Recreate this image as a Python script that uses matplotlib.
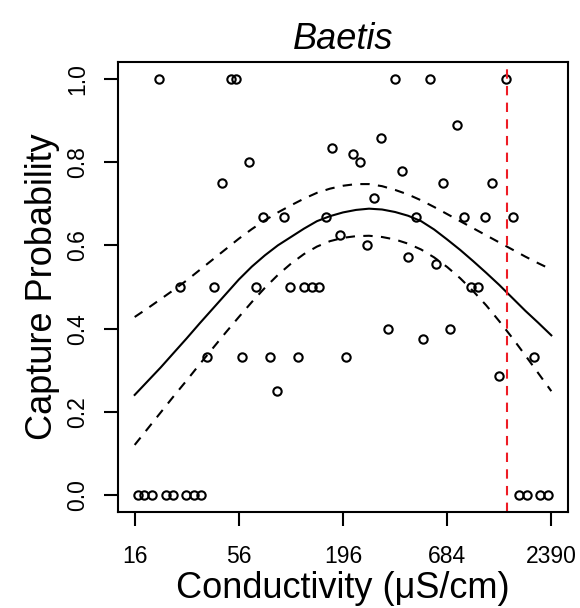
import matplotlib
matplotlib.use("Agg")
import matplotlib.pyplot as plt
from matplotlib.ticker import NullLocator

plt.rcParams["font.family"] = ["Liberation Sans", "DejaVu Sans"]

# observed capture probabilities vs conductivity (uS/cm)
conductivity = [16.6, 18.0, 19.7, 21.4, 23.2, 25.3, 27.5, 29.7, 32.5, 35.5,
                38.1, 41.7, 45.5, 51.1, 54.2, 58.0, 63.4, 68.4, 74.7, 81.2,
                88.4, 96.1, 104, 113.6, 123, 134, 146, 158.5, 171.8, 187.5,
                203, 221.8, 240.4, 261.5, 284.5, 309, 335, 366, 396, 429,
                468.7, 510, 554.6, 601, 654, 711, 773, 841, 915, 995,
                1078, 1173, 1275, 1387, 1509, 1627, 1776, 1933, 2094, 2286]
capture = [0, 0, 0, 1.0, 0, 0, 0.5, 0, 0, 0,
           0.333, 0.5, 0.75, 1.0, 1.0, 0.333, 0.8, 0.5, 0.667, 0.333,
           0.25, 0.667, 0.5, 0.333, 0.5, 0.5, 0.5, 0.667, 0.833, 0.625,
           0.333, 0.818, 0.8, 0.6, 0.714, 0.857, 0.4, 1.0, 0.778, 0.571,
           0.667, 0.375, 1.0, 0.556, 0.75, 0.4, 0.889, 0.667, 0.5, 0.5,
           0.667, 0.75, 0.286, 1.0, 0.667, 0, 0, 0.333, 0, 0]

# fitted curve and confidence band
curve_x = [16, 18.71, 21.88, 25.58, 29.92, 34.98, 40.91, 47.84, 55.94,
           65.41, 76.49, 89.45, 104.6, 122.3, 143.0, 167.2, 195.6, 228.7,
           267.4, 312.7, 365.7, 427.6, 500.0, 584.7, 683.7, 799.5, 934.9,
           1093, 1278, 1495, 1748, 2044, 2390]
fit = [0.241, 0.274, 0.307, 0.342, 0.377, 0.413, 0.448, 0.483, 0.518,
       0.549, 0.576, 0.600, 0.620, 0.640, 0.658, 0.670, 0.679, 0.685,
       0.688, 0.686, 0.680, 0.671, 0.658, 0.638, 0.614, 0.589, 0.562,
       0.534, 0.505, 0.474, 0.443, 0.414, 0.384]
upper = [0.428, 0.449, 0.471, 0.493, 0.516, 0.541, 0.566, 0.591, 0.616,
         0.639, 0.660, 0.679, 0.696, 0.712, 0.726, 0.736, 0.743, 0.747,
         0.747, 0.742, 0.733, 0.722, 0.708, 0.692, 0.675, 0.658, 0.641,
         0.624, 0.607, 0.590, 0.573, 0.557, 0.542]
lower = [0.121, 0.160, 0.199, 0.238, 0.276, 0.315, 0.353, 0.391, 0.428,
         0.464, 0.498, 0.529, 0.556, 0.579, 0.597, 0.610, 0.618, 0.622,
         0.623, 0.620, 0.614, 0.604, 0.590, 0.571, 0.548, 0.521, 0.490,
         0.456, 0.418, 0.378, 0.336, 0.293, 0.250]

threshold = 1410

xticks = [16, 56, 196, 684, 2390]
yticks = [0.0, 0.2, 0.4, 0.6, 0.8, 1.0]

fig = plt.figure(figsize=(5.8, 6.08), dpi=100)
ax = fig.add_axes([118 / 580, 1 - 512 / 608, 450 / 580, 450 / 608])

ax.plot(conductivity, capture, "o", mfc="none", mec="black", ms=6, mew=1.5)
ax.plot(curve_x, fit, color="black", lw=1.5)
ax.plot(curve_x, upper, color="black", lw=1.5, dashes=(4.5, 4))
ax.plot(curve_x, lower, color="black", lw=1.5, dashes=(4.5, 4))
ax.axvline(threshold, color="#EE1C25", lw=1.5, dashes=(4.5, 3.5))

ax.set_xscale("log")
ax.set_xlim(16 / 1.2219, 2390 * 1.2219)
ax.set_ylim(-0.04, 1.04)
ax.set_xticks(xticks)
ax.set_xticklabels([str(t) for t in xticks])
ax.xaxis.set_minor_locator(NullLocator())
ax.set_yticks(yticks)
ax.set_yticklabels(["%.1f" % t for t in yticks], rotation=90, va="center")

ax.tick_params(axis="both", direction="out", length=10, width=1.5,
               labelsize=16.5, color="black")
ax.tick_params(axis="x", pad=14)
ax.tick_params(axis="y", pad=11)
for s in ax.spines.values():
    s.set_linewidth(1.5)

ax.set_xlabel("Conductivity (μS/cm)", fontsize=26, labelpad=2)
ax.set_ylabel("Capture Probability", fontsize=26, labelpad=4)
ax.set_title("Baetis", fontsize=26, style="italic", pad=9)

fig.savefig("out.png", dpi=100)
